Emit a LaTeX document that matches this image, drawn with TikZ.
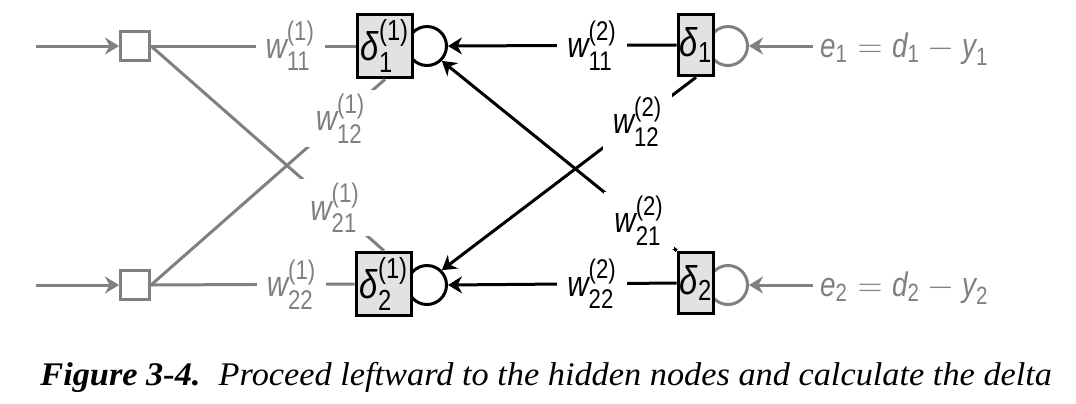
\documentclass[tikz,border=0pt]{standalone}
\usepackage{amsmath}
\usepackage{fontspec}
\setmainfont{Liberation Serif}
\newfontfamily\labfont[FakeStretch=0.82]{Liberation Sans}
\newfontfamily\capfont[FakeStretch=1.04]{Liberation Serif}
\DeclareMathSizes{20}{20}{14.5}{10}
\DeclareMathSizes{18}{18}{13.5}{10}
\DeclareMathSizes{17}{17}{12.5}{9}
\usetikzlibrary{arrows.meta}

\definecolor{lgray}{HTML}{808080}
\definecolor{boxfill}{HTML}{E2E2E2}

% weight and delta labels
\newcommand{\wt}[2]{$\textit{w}_{\text{#1}}^{\text{(#2)}}$}
\newcommand{\dt}[2]{$\textit{δ}_{\text{#1}}^{\text{(#2)}}$}
\newcommand{\dout}[1]{$\textit{δ}_{\text{#1}}$}
\newcommand{\err}[1]{$\textit{e}_{\text{#1}} = \textit{d}_{\text{#1}} - \textit{y}_{\text{#1}}$}

\begin{document}
\begin{tikzpicture}[x=0.5pt, y=0.5pt,
    inbox/.style={draw=lgray, line width=1.5pt, fill=white, minimum size=14.5pt, inner sep=0pt},
    dbox/.style={draw, line width=1.8pt, fill=boxfill, minimum width=27.5pt, minimum height=31.5pt,
                 inner sep=0pt, font=\labfont\fontsize{20}{22}\selectfont},
    obox/.style={dbox, minimum width=17.5pt, minimum height=30.5pt},
    sumnode/.style={circle, draw, line width=1.5pt, minimum size=19.5pt, inner sep=0pt},
    wlab/.style={fill=white, inner xsep=5pt, inner ysep=2pt, font=\labfont\fontsize{18}{20}\selectfont},
    gline/.style={lgray, line width=1.5pt},
    bline/.style={black, line width=1.5pt},
    garrow/.style={gline, -{Stealth[length=7pt, width=8.5pt]}},
    barrow/.style={bline, -{Stealth[length=7pt, width=8.5pt]}}
]
\useasboundingbox (0,0) rectangle (1076,-403);

% Summing circles (drawn first, boxes cover their left side)
\node[sumnode] (hc1) at (427,-46) {};
\node[sumnode] (hc2) at (427,-285) {};
\node[sumnode, draw=lgray] (oc1) at (728,-46) {};
\node[sumnode, draw=lgray] (oc2) at (728,-285) {};

% Input nodes
\coordinate (x1) at (36,-46);
\coordinate (x2) at (36,-285);
\node[inbox] (in1) at (135,-46) {};
\node[inbox] (in2) at (135,-285) {};

% Hidden and output delta boxes
\node[dbox] (h1) at (385,-46) {\dt{1}{1}};
\node[dbox] (h2) at (384,-284) {\dt{2}{1}};
\node[obox] (o1) at (696,-45) {\dout{1}};
\node[obox] (o2) at (696,-283) {\dout{2}};

% Error terms
\node[anchor=west, text=lgray, font=\labfont\fontsize{17}{18}\selectfont] (e1) at (813,-49) {\err{1}};
\node[anchor=west, text=lgray, font=\labfont\fontsize{17}{18}\selectfont] (e2) at (813,-288) {\err{2}};

% Inputs
\draw[garrow] (x1) -- (in1);
\draw[garrow] (x2) -- (in2);

% First layer weights (gray)
\draw[gline] (in1.east) -- node[wlab, text=lgray, pos=0.68] (w11a) {\wt{11}{1}} (h1.west);
\draw[gline] (in1.east) -- node[wlab, text=lgray, pos=0.79] (w21a) {\wt{21}{1}} (h2.north);
\draw[gline] (in2.east) -- node[wlab, text=lgray, pos=0.81] (w12a) {\wt{12}{1}} (h1.south);
\draw[gline] (in2.east) -- node[wlab, text=lgray, pos=0.69] (w22a) {\wt{22}{1}} (h2.west);

% Second layer weights (black, leftward)
\draw[barrow] (o1.west) -- node[wlab, pos=0.37] (w11b) {\wt{11}{2}} (hc1.east);
\draw[barrow] (o2.north west) -- node[wlab, pos=0.16] (w21b) {\wt{21}{2}} (hc1.south east);
\draw[barrow] (o1.south) -- node[wlab, pos=0.23] (w12b) {\wt{12}{2}} (hc2.north east);
\draw[barrow] (o2.west) -- node[wlab, pos=0.37] (w22b) {\wt{22}{2}} (hc2.east);

% Errors into output circles
\draw[garrow] (e1.west |- oc1.east) -- (oc1.east);
\draw[garrow] (e2.west |- oc2.east) -- (oc2.east);

% Caption
\node[anchor=base west, inner sep=0pt, font=\capfont\fontsize{16.5}{18}\selectfont] (cap) at (40,-385)
    {\textbf{\textit{Figure 3-4.}}\hspace{0.55em}\textit{Proceed leftward to the hidden nodes and calculate the delta}};

\end{tikzpicture}
\end{document}
